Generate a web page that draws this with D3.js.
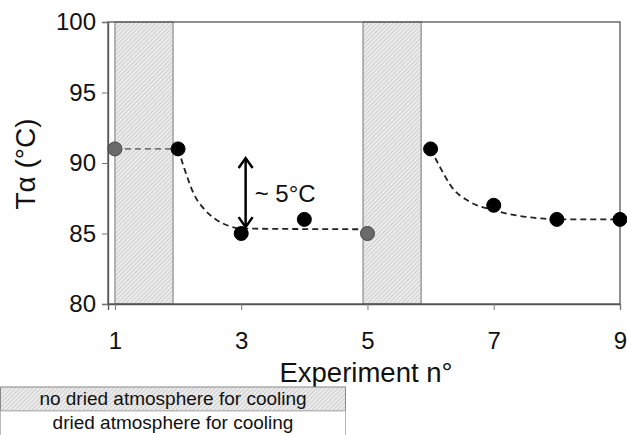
<!DOCTYPE html>
<html><head><meta charset="utf-8">
<script src="https://cdn.jsdelivr.net/npm/d3@7"></script>
<style>body{margin:0;background:#fff}svg{display:block;font-family:"Liberation Sans",Arial,sans-serif}</style>
</head><body><svg id="c" width="627" height="435"></svg>
<script>
// Data
const experiments = [1,2,3,4,5,6,7,8,9];
const tAlpha      = [91,91,85,86,85,91,87,86,86];
const pointKind   = ["gray","black","black","black","gray","black","black","black","black"];
const xTicks = [1,3,5,7,9];
const yTicks = [80,85,90,95,100];
const bands = [[1,1.92],[4.93,5.85]];
const linkX = [1,2], linkY = [91,91];
const fit1X = [2,2.1,2.25,2.4,2.6,2.8,3,5];
const fit1Y = [91,89.6,87.8,86.8,86.0,85.55,85.35,85.3];
const fit2X = [6,6.15,6.35,6.6,7,7.4,7.8,8,9];
const fit2Y = [91,89.7,88.2,87.3,86.65,86.25,86.05,86,86];
const arrowX = 3.07, arrowY = [85.45,90.35];
const legendLabels = ["no dried atmosphere for cooling","dried atmosphere for cooling"];

const svg = d3.select("#c");
const L=108,R=620,T=22,B=304;
const x = d3.scaleLinear().domain([0.89,9]).range([L,R]);
const y = d3.scaleLinear().domain([80,100]).range([B,T]);

const defs = svg.append("defs");
const pat = defs.append("pattern").attr("id","hatch").attr("patternUnits","userSpaceOnUse")
  .attr("width",3).attr("height",3).attr("patternTransform","rotate(45)");
pat.append("rect").attr("width",3).attr("height",3).attr("fill","#ececec");
pat.append("line").attr("x1",0).attr("y1",0).attr("x2",0).attr("y2",3).attr("stroke","#b0b0b0").attr("stroke-width",1);

// bands
svg.selectAll("rect.band").data(bands).enter().append("rect").attr("class","band")
  .attr("x",d=>x(d[0])).attr("y",T).attr("width",d=>x(d[1])-x(d[0])).attr("height",B-T)
  .attr("fill","url(#hatch)").attr("stroke","#8a8a8a").attr("stroke-width",1.2);

// frame
svg.append("rect").attr("x",L).attr("y",T).attr("width",R-L).attr("height",B-T)
  .attr("fill","none").attr("stroke","#555").attr("stroke-width",1.3);

// axes
const yAxis = svg.append("g").attr("transform",`translate(${L},0)`)
  .call(d3.axisLeft(y).tickValues(yTicks).tickSize(6).tickPadding(6));
const xAxis = svg.append("g").attr("transform",`translate(0,${B})`)
  .call(d3.axisBottom(x).tickValues(xTicks).tickSize(6).tickPadding(22));
[yAxis,xAxis].forEach(g=>{
  g.select(".domain").attr("stroke","#555").attr("stroke-width",1.3);
  g.selectAll(".tick line").attr("stroke","#777");
  g.selectAll(".tick text").attr("fill","#111").style("font-size","24px").style("font-family","'Liberation Sans',Arial,sans-serif");
});

// lines
const line = d3.line().x(d=>x(d[0])).y(d=>y(d[1])).curve(d3.curveMonotoneX);
svg.append("path").datum(d3.zip(linkX,linkY)).attr("d",line).attr("fill","none")
  .attr("stroke","#777").attr("stroke-width",1.6).attr("stroke-dasharray","6,4");
[[fit1X,fit1Y],[fit2X,fit2Y]].forEach(([fx,fy])=>{
  svg.append("path").datum(d3.zip(fx,fy)).attr("d",line).attr("fill","none")
    .attr("stroke","#222").attr("stroke-width",1.8).attr("stroke-dasharray","6,4");
});

// points
svg.selectAll("circle.pt").data(experiments.map((e,i)=>({e,v:tAlpha[i],k:pointKind[i]}))).enter()
  .append("circle").attr("class","pt").attr("cx",d=>x(d.e)).attr("cy",d=>y(d.v)).attr("r",7)
  .attr("fill",d=>d.k==="gray"?"#6a6a6a":"#000").attr("stroke",d=>d.k==="gray"?"#444":"#000").attr("stroke-width",1);

// arrow
const ax = x(arrowX), ay0=y(arrowY[0]), ay1=y(arrowY[1]);
svg.append("line").attr("x1",ax).attr("x2",ax).attr("y1",ay0).attr("y2",ay1).attr("stroke","#000").attr("stroke-width",2.5);
svg.append("path").attr("d",`M${ax-7},${ay1+10}L${ax},${ay1}L${ax+7},${ay1+10}`).attr("fill","none").attr("stroke","#000").attr("stroke-width",2.5);
svg.append("path").attr("d",`M${ax-7},${ay0-10}L${ax},${ay0}L${ax+7},${ay0-10}`).attr("fill","none").attr("stroke","#000").attr("stroke-width",2.5);
svg.append("text").attr("x",ax+9).attr("y",(ay0+ay1)/2+9).attr("font-size",24).attr("fill","#111").text("~ 5°C");

// axis titles
svg.append("text").attr("transform","translate(35,164) rotate(-90)").attr("text-anchor","middle")
  .attr("font-size",28).attr("fill","#111").text("Tα (°C)");
svg.append("text").attr("x",366).attr("y",382).attr("text-anchor","middle")
  .attr("font-size",27.5).attr("fill","#111").text("Experiment n°");

// legend
const lg = svg.append("g");
lg.append("rect").attr("x",0.5).attr("y",387).attr("width",345).attr("height",24).attr("fill","url(#hatch)").attr("stroke","#888");
lg.append("rect").attr("x",0.5).attr("y",411).attr("width",345).attr("height",26).attr("fill","#fff").attr("stroke","#bbb");
lg.selectAll("text").data(legendLabels).enter().append("text")
  .attr("x",173).attr("y",(d,i)=>405+i*24).attr("text-anchor","middle").attr("font-size",19).attr("fill","#111").text(d=>d);
</script></body></html>
